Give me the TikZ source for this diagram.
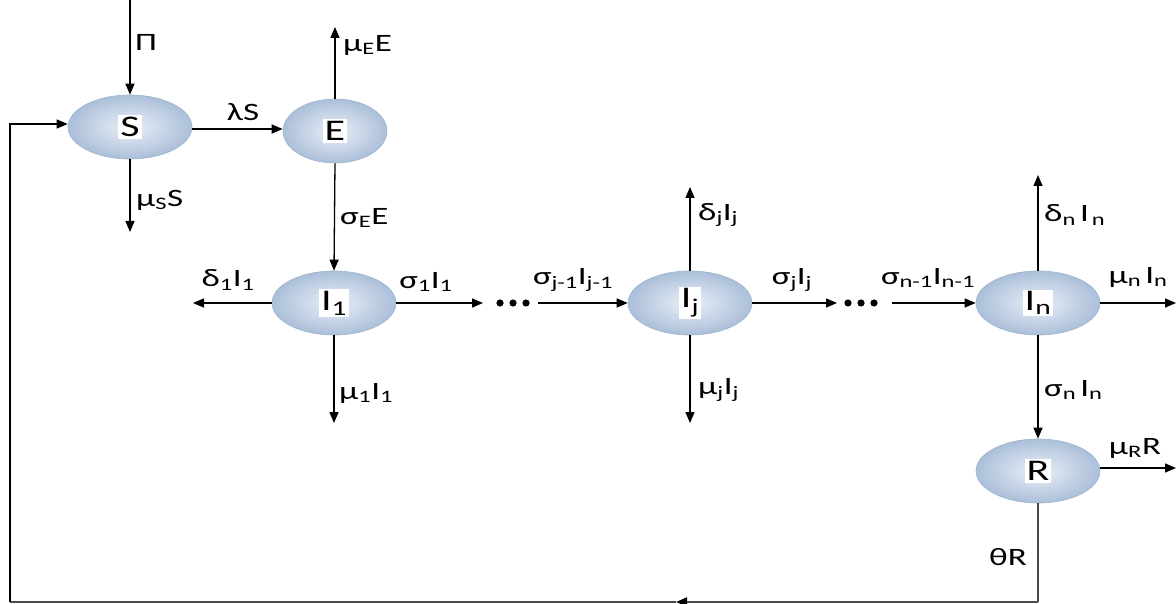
\documentclass[tikz,border=0pt]{standalone}
\usepackage{fontspec}
\setmainfont{Carlito}[FakeStretch=1.4]
\usetikzlibrary{shapes.geometric,arrows.meta,calc}
\definecolor{ellin}{HTML}{EAF0F8}
\definecolor{ellout}{HTML}{ABBFD9}
\definecolor{elldraw}{HTML}{A0B4CE}
\definecolor{fbgray}{HTML}{4A4A4A}
\newcommand{\sbs}[1]{\textsubscript{#1}}
\begin{document}
\begin{tikzpicture}[x=1pt,y=-1pt,
  state/.style={ellipse, minimum width=124pt, minimum height=64pt, inner color=ellin, outer color=ellout, draw=elldraw, line width=0.6pt},
  nlabel/.style={fill=white, inner sep=2pt, font=\fontsize{30}{34}\selectfont},
  flow/.style={-{Triangle[length=11pt,width=9pt]}, line width=1.3pt},
  fb/.style={line width=1.8pt, draw=fbgray},
  lab/.style={font=\fontsize{25}{29}\selectfont, inner sep=1pt},
  dot/.style={fill=black}
]
\useasboundingbox (0,0) rectangle (1176,604);

% states
\node[state] (S) at (130,127) {};
\node[nlabel] (St) at (S) {S};
\node[state, minimum width=104pt] (E) at (335,131) {};
\node[nlabel] (Et) at (E) {E};
\node[state] (I1) at (334,303) {};
\node[nlabel] (I1t) at (I1) {I\sbs{1}};
\node[state] (Ij) at (690,303) {};
\node[nlabel] (Ijt) at (Ij) {I\sbs{j}};
\node[state] (In) at (1038,303) {};
\node[nlabel] (Int) at (In) {I\sbs{n}};
\node[state] (R) at (1038,471) {};
\node[nlabel] (Rt) at (R) {R};

% free ends
\coordinate (Pi0) at (130,0);
\coordinate (muS) at (130,232);
\coordinate (muE) at (335,27);
\coordinate (d1) at (193,303);
\coordinate (s1) at (483,303);
\coordinate (m1) at (334,423);
\coordinate (sj1) at (538,303);
\coordinate (dj) at (690,187);
\coordinate (mj) at (690,423);
\coordinate (sj) at (837,303);
\coordinate (sn1) at (892,303);
\coordinate (dn) at (1038,175);
\coordinate (mn) at (1176,303);
\coordinate (mR) at (1176,468);
\coordinate (fbR) at (1038,602);
\coordinate (fbM) at (676,602);
\coordinate (fbL) at (10,602);
\coordinate (fbT) at (10,124);
\coordinate (SE) at ($(S.east)+(0,2)$);
\coordinate (RE) at ($(R.east)+(0,-3)$);

% flows
\draw[flow] (Pi0) -- (S.north);
\draw[flow] (S.south) -- (muS);
\draw[flow] (SE) -- (SE -| E.west);
\draw[flow] (E.north) -- (muE);
\draw[flow] (E.south) -- (I1.north);
\draw[flow] (I1.west) -- (d1);
\draw[flow] (I1.east) -- (s1);
\draw[flow] (I1.south) -- (m1);
\draw[flow] (sj1) -- (Ij.west);
\draw[flow] (Ij.north) -- (dj);
\draw[flow] (Ij.south) -- (mj);
\draw[flow] (Ij.east) -- (sj);
\draw[flow] (sn1) -- (In.west);
\draw[flow] (In.north) -- (dn);
\draw[flow] (In.east) -- (mn);
\draw[flow] (In.south) -- (R.north);
\draw[flow] (RE) -- (mR);

% feedback
\draw[fb, line width=1.2pt] (R.south) -- (fbR);
\draw[fb, -{Triangle[length=11pt,width=9pt,color=black]}] (fbR) -- (fbM);
\draw[fb] (fbM) -- (fbL);
\draw[flow] (fbL) -- (fbT) -- (fbT -| S.west);

% dots
\foreach \x in {500,513,526} \fill[dot] (\x,303) circle (3.6pt);
\foreach \x in {848,861,874} \fill[dot] (\x,303) circle (3.6pt);

% labels
\node[lab, anchor=west] (lPi) at (134,42) {Π};
\node[lab, anchor=west] (lmuS) at (135,200) {μ\sbs{S}S};
\node[lab] (llam) at (243,112) {λS};
\node[lab, anchor=west] (lmuE) at (342,45) {μ\sbs{E}E};
\node[lab, anchor=west] (lsigE) at (339,218) {σ\sbs{E}E};
\node[lab] (ld1) at (228,280) {δ\sbs{1}I\sbs{1}};
\node[lab] (ls1) at (426,282) {σ\sbs{1}I\sbs{1}};
\node[lab, anchor=west] (lm1) at (338,393) {μ\sbs{1}I\sbs{1}};
\node[lab] (lsj1) at (573,280) {σ\sbs{j-1}I\sbs{j-1}};
\node[lab, anchor=west] (ldj) at (697,215) {δ\sbs{j}I\sbs{j}};
\node[lab] (lsj) at (792,280) {σ\sbs{j}I\sbs{j}};
\node[lab, anchor=west] (lmj) at (697,390) {μ\sbs{j}I\sbs{j}};
\node[lab] (lsn1) at (928,278) {σ\sbs{n-1}I\sbs{n-1}};
\node[lab, anchor=west] (ldn) at (1043,215) {δ\sbs{n}\,I\sbs{\,n}};
\node[lab] (lmn) at (1138,277) {μ\sbs{n}\,I\sbs{n}};
\node[lab, anchor=west] (lsn) at (1043,390) {σ\sbs{n}\,I\sbs{n}};
\node[lab] (lmR) at (1135,448) {μ\sbs{R}R};
\node[lab, anchor=east] (lth) at (1028,557) {θR};
\end{tikzpicture}
\end{document}
